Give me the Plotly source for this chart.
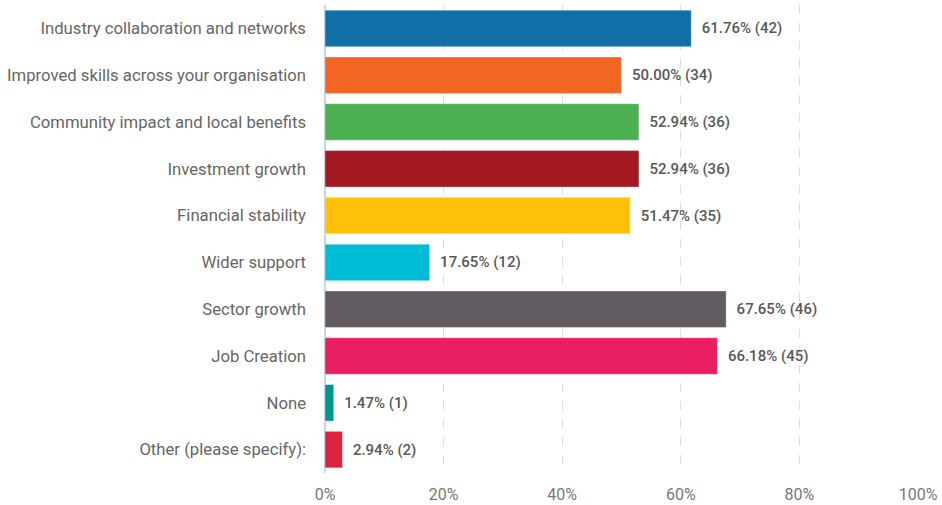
import plotly.graph_objects as go

categories = [
    "Industry collaboration and networks",
    "Improved skills across your organisation",
    "Community impact and local benefits",
    "Investment growth",
    "Financial stability",
    "Wider support",
    "Sector growth",
    "Job Creation",
    "None",
    "Other (please specify):",
]
percentages = [61.76, 50.00, 52.94, 52.94, 51.47, 17.65, 67.65, 66.18, 1.47, 2.94]
counts = [42, 34, 36, 36, 35, 12, 46, 45, 1, 2]
colors = ["#1170AA", "#F26522", "#4CAF50", "#A21A1F", "#FFC107",
          "#00BCD4", "#625B61", "#E91E63", "#009688", "#DC2341"]
x_ticks = [0, 20, 40, 60, 80, 100]
x_tick_labels = [f"{t}%" for t in x_ticks]

labels = [f"{p:.2f}% ({c})" for p, c in zip(percentages, counts)]

fig = go.Figure(go.Bar(
    y=categories,
    x=percentages,
    orientation="h",
    marker=dict(color=colors, line=dict(color="rgba(255,255,255,0.35)", width=1)),
    text=labels,
    textposition="outside",
    texttemplate="  %{text}",
    textfont=dict(family="Roboto", size=15, color="#585858", weight=500),
    cliponaxis=False,
    hoverinfo="skip",
))

fig.update_layout(
    width=942, height=505,
    margin=dict(l=325, r=24, t=5, b=32),
    paper_bgcolor="white",
    plot_bgcolor="white",
    bargap=0.22,
    showlegend=False,
    font=dict(family="Roboto", color="#666666"),
    xaxis=dict(
        range=[0, 100],
        tickvals=x_ticks,
        ticktext=x_tick_labels,
        showgrid=True,
        gridcolor="#DDDDDD",
        griddash="dash",
        gridwidth=1,
        zeroline=True,
        zerolinecolor="#C9D4E2",
        zerolinewidth=1.5,
        tickfont=dict(family="Roboto", size=16, color="#777777"),
        ticklabelstandoff=10,
        automargin=False,
        fixedrange=True,
    ),
    yaxis=dict(
        autorange="reversed",
        showgrid=False,
        zeroline=False,
        tickfont=dict(family="Roboto", size=16.7, color="#666666"),
        ticklabelstandoff=18,
        automargin=False,
        fixedrange=True,
    ),
)

fig.write_html("out.html")
